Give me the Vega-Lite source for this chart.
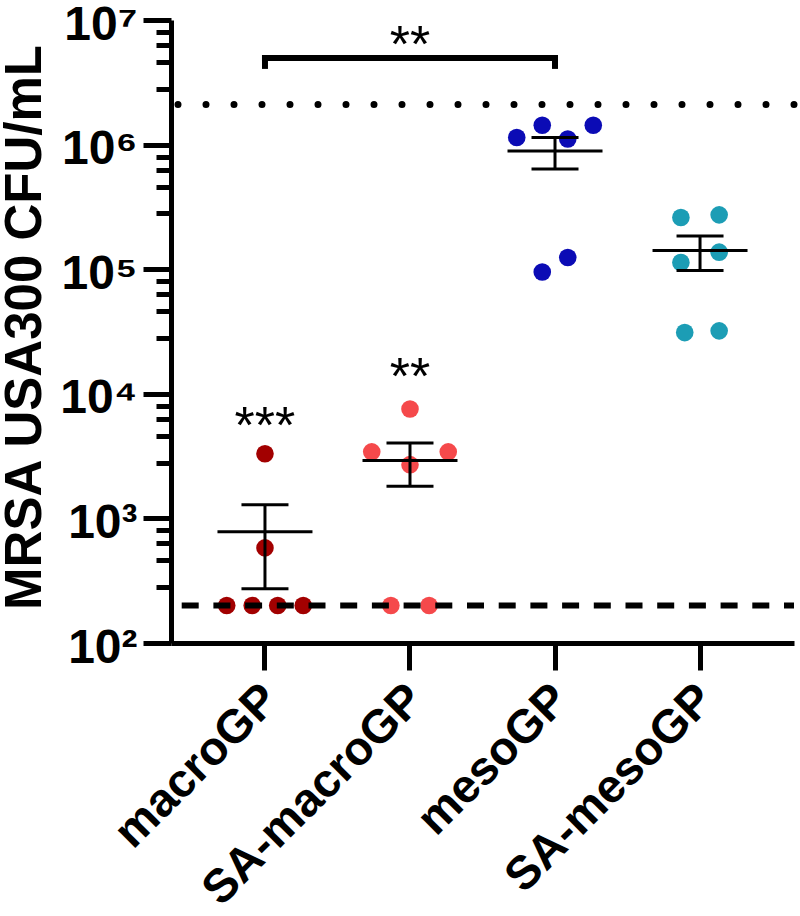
{
  "$schema": "https://vega.github.io/schema/vega-lite/v6.json",
  "description": "MRSA USA300 CFU/mL recovered per treatment group, log scale, mean with SEM",
  "width": 623,
  "height": 623,
  "autosize": "none",
  "padding": {"left": 171, "top": 20, "right": 6, "bottom": 273},
  "background": "white",
  "config": {"font": "Liberation Sans", "view": {"stroke": null}},
  "datasets": {
    "cfu": [
      {"group": "macroGP", "value": 200, "jitter": -1.5},
      {"group": "macroGP", "value": 200, "jitter": -0.5},
      {"group": "macroGP", "value": 200, "jitter": 0.5},
      {"group": "macroGP", "value": 200, "jitter": 1.5},
      {"group": "macroGP", "value": 580, "jitter": 0},
      {"group": "macroGP", "value": 3300, "jitter": 0},
      {"group": "SA-macroGP", "value": 200, "jitter": -0.75},
      {"group": "SA-macroGP", "value": 200, "jitter": 0.75},
      {"group": "SA-macroGP", "value": 2700, "jitter": 0},
      {"group": "SA-macroGP", "value": 3420, "jitter": -1.5},
      {"group": "SA-macroGP", "value": 3420, "jitter": 1.5},
      {"group": "SA-macroGP", "value": 7550, "jitter": 0},
      {"group": "mesoGP", "value": 1140000, "jitter": -1.5},
      {"group": "mesoGP", "value": 1430000, "jitter": -0.5},
      {"group": "mesoGP", "value": 1110000, "jitter": 0.5},
      {"group": "mesoGP", "value": 1430000, "jitter": 1.5},
      {"group": "mesoGP", "value": 95000, "jitter": -0.5},
      {"group": "mesoGP", "value": 124000, "jitter": 0.5},
      {"group": "SA-mesoGP", "value": 260000, "jitter": -0.75},
      {"group": "SA-mesoGP", "value": 273000, "jitter": 0.75},
      {"group": "SA-mesoGP", "value": 137000, "jitter": 0.75},
      {"group": "SA-mesoGP", "value": 113000, "jitter": -0.75},
      {"group": "SA-mesoGP", "value": 31000, "jitter": -0.6},
      {"group": "SA-mesoGP", "value": 32000, "jitter": 0.75}
    ],
    "stars": [
      {"group": "macroGP", "value": 4030, "label": "***"},
      {"group": "SA-macroGP", "value": 9930, "label": "**"},
      {"group": "SA-macroGP", "value": 4640000, "label": "**"}
    ],
    "bracket": [
      {"group": "macroGP", "group2": "mesoGP", "value": 4960000}
    ],
    "legs": [
      {"group": "macroGP", "value": 4960000, "value2": 4050000},
      {"group": "mesoGP", "value": 4960000, "value2": 4050000}
    ],
    "upper": [{"value": 2100000}],
    "lower": [{"value": 200}]
  },
  "layer": [
    {
      "data": {"name": "cfu"},
      "mark": {"type": "circle", "size": 310, "opacity": 1},
      "encoding": {
        "x": {
          "field": "group",
          "type": "nominal",
          "sort": ["macroGP", "SA-macroGP", "mesoGP", "SA-mesoGP"],
          "scale": {"domain": ["macroGP", "SA-macroGP", "mesoGP", "SA-mesoGP"], "paddingInner": 0, "paddingOuter": 0.148},
          "axis": {
            "title": null,
            "labelAngle": -45,
            "labelAlign": "right",
            "labelBaseline": "middle",
            "labelFont": "Liberation Sans",
            "labelFontSize": 47,
            "labelFontWeight": "bold",
            "labelColor": "black",
            "labelPadding": 22,
            "labelOffset": 6,
            "labelLimit": 0,
            "tickSize": 27,
            "tickWidth": 5,
            "tickColor": "black",
            "domainWidth": 5,
            "domainColor": "black",
            "grid": false
          }
        },
        "xOffset": {"field": "jitter", "type": "quantitative", "scale": {"domain": [-2.843, 2.843]}},
        "y": {
          "field": "value",
          "type": "quantitative",
          "title": "MRSA USA300 CFU/mL",
          "scale": {"type": "log", "domain": [100, 10000000], "nice": false},
          "axis": {
            "titleFont": "Liberation Sans",
            "titleFontSize": 51,
            "titleFontWeight": "bold",
            "titleColor": "black",
            "titleAngle": 270,
            "titleAlign": "center",
            "titleBaseline": "alphabetic",
            "titleX": -131,
            "titleY": 307,
            "values": [100, 280, 460, 630, 800, 1000, 2800, 4600, 6300, 8000, 10000, 28000, 46000, 63000, 80000, 100000, 280000, 460000, 630000, 800000, 1000000, 2800000, 4600000, 6300000, 8000000, 10000000],
            "labelExpr": "datum.value == 100 ? '10²' : datum.value == 1000 ? '10³' : datum.value == 10000 ? '10⁴' : datum.value == 100000 ? '10⁵' : datum.value == 1000000 ? '10⁶' : datum.value == 10000000 ? '10⁷' : ''",
            "labelFont": "Liberation Sans",
            "labelFontSize": 48,
            "labelFontWeight": "bold",
            "labelColor": "black",
            "labelPadding": 6,
            "labelOffset": 5,
            "labelOverlap": false,
            "labelFlush": false,
            "tickSize": {"condition": {"test": "indexof([100, 1000, 10000, 100000, 1000000, 10000000], datum.value) >= 0", "value": 28}, "value": 15},
            "tickWidth": 5,
            "tickColor": "black",
            "domainWidth": 5,
            "domainColor": "black",
            "grid": false
          }
        },
        "color": {
          "field": "group",
          "type": "nominal",
          "scale": {"domain": ["macroGP", "SA-macroGP", "mesoGP", "SA-mesoGP"], "range": ["#a20000", "#f5494b", "#0b0bb5", "#1c9db5"]},
          "legend": null
        }
      }
    },
    {
      "data": {"name": "upper"},
      "mark": {"type": "rule", "color": "black", "strokeWidth": 7, "strokeDash": [0, 28], "strokeCap": "round"},
      "encoding": {"y": {"field": "value", "type": "quantitative", "title": "MRSA USA300 CFU/mL", "scale": {"type": "log", "domain": [100, 10000000], "nice": false}}}
    },
    {
      "data": {"name": "lower"},
      "mark": {"type": "rule", "color": "black", "strokeWidth": 6, "strokeDash": [17, 14.7], "strokeDashOffset": 7},
      "encoding": {"y": {"field": "value", "type": "quantitative", "title": "MRSA USA300 CFU/mL", "scale": {"type": "log", "domain": [100, 10000000], "nice": false}}}
    },
    {
      "data": {"name": "cfu"},
      "mark": {"type": "errorbar", "extent": "stderr", "thickness": 3, "color": "black", "rule": {"color": "black"}, "ticks": {"size": 47, "color": "black", "opacity": 1}},
      "encoding": {
        "x": {"field": "group", "type": "nominal", "title": null},
        "y": {"field": "value", "type": "quantitative", "title": "MRSA USA300 CFU/mL", "scale": {"type": "log", "domain": [100, 10000000], "nice": false}}
      }
    },
    {
      "data": {"name": "cfu"},
      "mark": {"type": "tick", "size": 95, "thickness": 3, "color": "black", "opacity": 1},
      "encoding": {
        "x": {"field": "group", "type": "nominal", "title": null},
        "y": {"aggregate": "mean", "field": "value", "type": "quantitative", "title": "MRSA USA300 CFU/mL", "scale": {"type": "log", "domain": [100, 10000000], "nice": false}}
      }
    },
    {
      "data": {"name": "bracket"},
      "mark": {"type": "rule", "color": "black", "strokeWidth": 6, "strokeCap": "square"},
      "encoding": {
        "x": {"field": "group", "type": "nominal", "title": null},
        "x2": {"field": "group2"},
        "y": {"field": "value", "type": "quantitative", "title": "MRSA USA300 CFU/mL", "scale": {"type": "log", "domain": [100, 10000000], "nice": false}}
      }
    },
    {
      "data": {"name": "legs"},
      "mark": {"type": "rule", "color": "black", "strokeWidth": 6},
      "encoding": {
        "x": {"field": "group", "type": "nominal", "title": null},
        "y": {"field": "value", "type": "quantitative", "title": "MRSA USA300 CFU/mL", "scale": {"type": "log", "domain": [100, 10000000], "nice": false}},
        "y2": {"field": "value2"}
      }
    },
    {
      "data": {"name": "stars"},
      "mark": {"type": "text", "font": "Liberation Sans", "fontSize": 52, "color": "black", "align": "center", "baseline": "alphabetic"},
      "encoding": {
        "x": {"field": "group", "type": "nominal", "title": null},
        "y": {"field": "value", "type": "quantitative", "title": "MRSA USA300 CFU/mL", "scale": {"type": "log", "domain": [100, 10000000], "nice": false}},
        "text": {"field": "label"}
      }
    }
  ]
}
